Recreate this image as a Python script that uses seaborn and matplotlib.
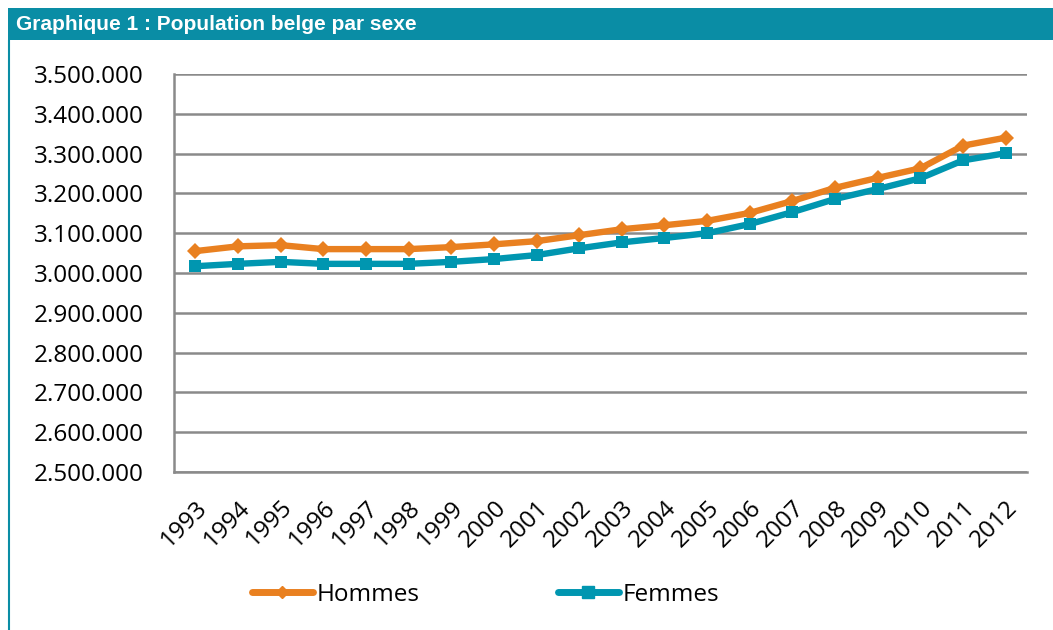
import matplotlib
matplotlib.use('Agg')
import matplotlib.pyplot as plt
import matplotlib.ticker as mticker
from matplotlib.patches import Rectangle
from matplotlib.lines import Line2D
import seaborn as sns
import numpy as np
import pandas as pd

# Data
years = [str(y) for y in range(1993, 2013)]
hommes = [3055000, 3067000, 3070000, 3060000, 3060000, 3060000, 3065000, 3072000,
          3080000, 3095000, 3110000, 3120000, 3131000, 3151000, 3181000, 3214000,
          3239000, 3263000, 3320000, 3340000]
femmes = [3017000, 3023000, 3028000, 3023000, 3023000, 3023000, 3028000, 3035000,
          3045000, 3062000, 3077000, 3088000, 3100000, 3123000, 3153000, 3186000,
          3211000, 3238000, 3283000, 3301000]
yticks = list(range(2500000, 3500001, 100000))

ORANGE = "#E98020"
TEAL = "#0096B0"
BAR = "#0A8DA5"
GRID = "#8A8A8A"

sns.set_style("white")
plt.rcParams['font.family'] = ['Open Sans', 'DejaVu Sans']
plt.rcParams['text.color'] = 'black'
plt.rcParams['xtick.color'] = 'black'
plt.rcParams['ytick.color'] = 'black'

df = pd.DataFrame({
    "pos": list(range(len(years))) * 2,
    "value": hommes + femmes,
    "serie": ["Hommes"] * len(years) + ["Femmes"] * len(years),
})

fig = plt.figure(figsize=(10.53, 6.30), dpi=100)
ax = fig.add_axes([174 / 1053, 1 - 472 / 630, (1027 - 174) / 1053, (472 - 74) / 630])

sns.lineplot(data=df, x="pos", y="value", hue="serie", style="serie",
             palette={"Hommes": ORANGE, "Femmes": TEAL},
             markers={"Hommes": "D", "Femmes": "s"},
             dashes=False, linewidth=4.6, markersize=8.5, markeredgewidth=0,
             legend=False, ax=ax)

ax.set_xlim(-0.5, len(years) - 0.5)
ax.set_ylim(2500000, 3500000)
ax.set_yticks(yticks)
ax.yaxis.set_major_formatter(mticker.FuncFormatter(lambda v, p: f"{int(v):,}".replace(",", ".")))
ax.yaxis.grid(True, color=GRID, linewidth=1.8)
ax.set_axisbelow(True)

# category axis: ticks between categories, labels at centers
ax.set_xticks(np.arange(-0.5, len(years), 1.0))
ax.set_xticklabels([])
ax.set_xticks(np.arange(len(years)), minor=True)
ax.set_xticklabels(years, minor=True, rotation=45, ha='right', va='top',
                   rotation_mode='anchor', fontsize=17.5)
ax.tick_params(axis='x', which='minor', length=0, pad=17)
ax.tick_params(axis='x', which='major', length=6, width=1.8, color=GRID)
ax.tick_params(axis='y', length=6, width=1.8, color=GRID, labelsize=17.5, pad=16)

ax.set_xlabel("")
ax.set_ylabel("")
for side in ["top", "right"]:
    ax.spines[side].set_visible(False)
for side in ["left", "bottom"]:
    ax.spines[side].set_color(GRID)
    ax.spines[side].set_linewidth(1.8)

# legend
handles = [Line2D([], [], color=ORANGE, lw=5, marker="D", ms=6, solid_capstyle='round'),
           Line2D([], [], color=TEAL, lw=5, marker="s", ms=9, solid_capstyle='round')]
fig.legend(handles, ["Hommes", "Femmes"], loc='center left',
           bbox_to_anchor=(252 / 1053, 1 - 595 / 630), ncol=2, frameon=False,
           fontsize=17.5, handlelength=2.5, handletextpad=0.15, columnspacing=5.7,
           borderpad=0, borderaxespad=0)

# title bar and frame
fig.patches.append(Rectangle((8 / 1053, 1 - 40 / 630), 1, 32 / 630,
                             transform=fig.transFigure, facecolor=BAR, edgecolor='none'))
fig.lines.append(Line2D([9 / 1053, 9 / 1053], [0, 1 - 40 / 630],
                        transform=fig.transFigure, color=BAR, linewidth=1.5))
fig.text(16 / 1053, 1 - 24 / 630, "Graphique 1 : Population belge par sexe",
         color="white", fontsize=15, fontweight='bold', family=['Liberation Sans', 'DejaVu Sans'],
         va='center', ha='left')

plt.savefig("out.png", dpi=100)
plt.close()
